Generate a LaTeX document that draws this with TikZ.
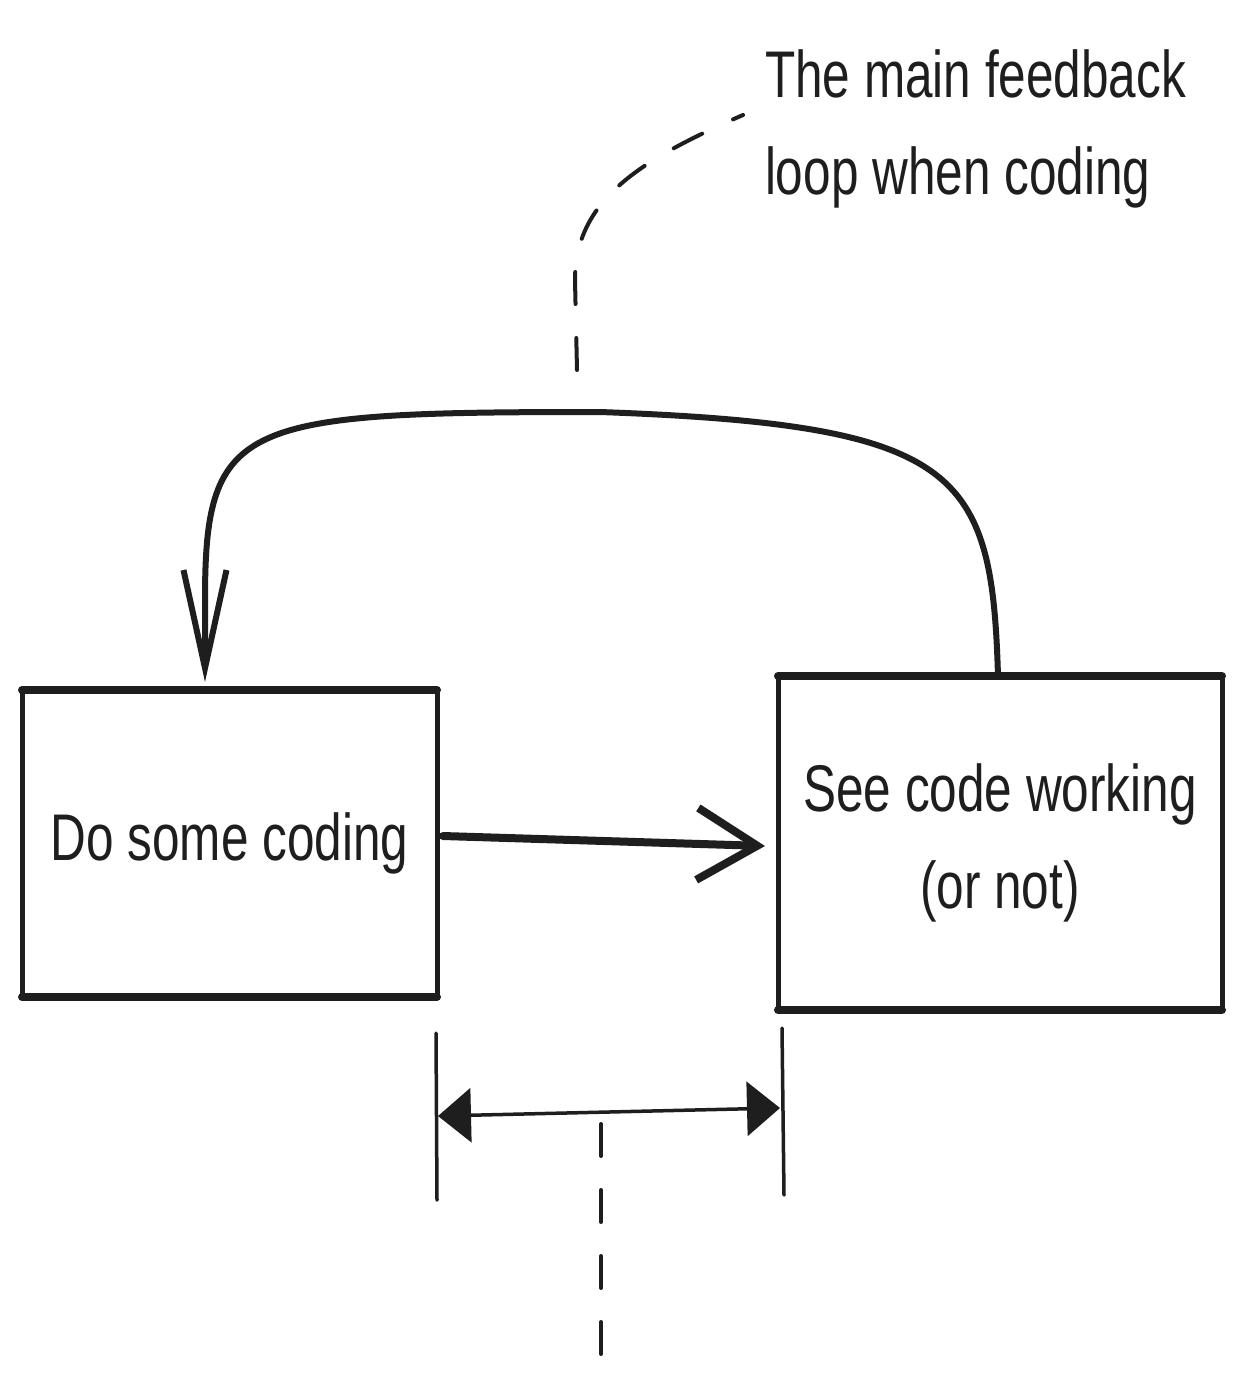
\documentclass[tikz,border=0pt]{standalone}
\usepackage{fontspec}
\setmainfont{Liberation Sans}[FakeStretch=0.75]
\usetikzlibrary{arrows.meta}
\definecolor{ink}{HTML}{1E1E1E}
\newcommand\handfont{\fontsize{66}{97}\selectfont}
\begin{document}
\begin{tikzpicture}[x=1pt,y=-1pt,
  box/.style={draw=ink, line width=5pt, inner sep=0pt, outer sep=0pt, font=\handfont, text=ink},
  edge/.style={draw=ink, line width=8pt, line cap=round},
  flow/.style={draw=ink, line width=8pt, line cap=round, line join=round, arrows={-Straight Barb[length=60pt,width=72pt]}},
  loopline/.style={draw=ink, line width=6pt, line cap=round, line join=round, arrows={-Straight Barb[length=98pt,width=43pt]}},
  note/.style={inner sep=0pt, outer sep=0pt, font=\handfont, text=ink, align=left},
  dashline/.style={draw=ink, line width=4pt, line cap=round, dash pattern=on 32pt off 34pt},
  tick/.style={draw=ink, line width=3.5pt, line cap=round},
  dimarrow/.style={draw=ink, line width=3.5pt, arrows={Triangle[length=33pt,width=54pt]-Triangle[length=33pt,width=54pt]}}
]
\fill[white] (0,0) rectangle (1244,1382);
\useasboundingbox (0,0) rectangle (1244,1382);

% boxes
\node[box, minimum width=415pt, minimum height=307pt] (do) at (229.5,843.5) {Do some coding};
\node[box, minimum width=444pt, minimum height=334pt, align=center] (see) at (1000,843) {See code working\\(or not)};
\draw[edge] (do.north west) -- (do.north east);
\draw[edge] (do.south west) -- (do.south east);
\draw[edge] (see.north west) -- (see.north east);
\draw[edge] (see.south west) -- (see.south east);

% main arrow
\draw[flow] ([xshift=6pt,yshift=7.5pt]do.east) -- ([xshift=-13pt,yshift=-3pt]see.west);

% feedback loop
\coordinate (looptop) at (600,412);
\draw[loopline] ([xshift=-2pt]see.north) .. controls (992,470) and (960,425) .. (looptop)
  .. controls (240,412) and (205,420) .. (205,600) -- ([xshift=-24.5pt,yshift=8pt]do.north);

% annotation
\node[note, anchor=north west] (note) at (765,50) {The main feedback\\loop when coding};
\coordinate (notefoot) at (577,370);
\draw[dashline] (notefoot) -- (575,280) .. controls (575,200) and (640,160) .. ([xshift=-22pt,yshift=-65pt]note.north west);

% dimension
\coordinate (dl1) at (436,1033);
\coordinate (dl2) at (437,1200);
\coordinate (dr1) at (782,1028);
\coordinate (dr2) at (784,1195);
\draw[tick] (dl1) -- (dl2);
\draw[tick] (dr1) -- (dr2);
\coordinate (al) at (438,1116);
\coordinate (ar) at (780,1108);
\draw[dimarrow] (al) -- (ar);
\coordinate (mid1) at (601,1124);
\coordinate (mid2) at (601,1360);
\draw[dashline] (mid1) -- (mid2);
\end{tikzpicture}
\end{document}
